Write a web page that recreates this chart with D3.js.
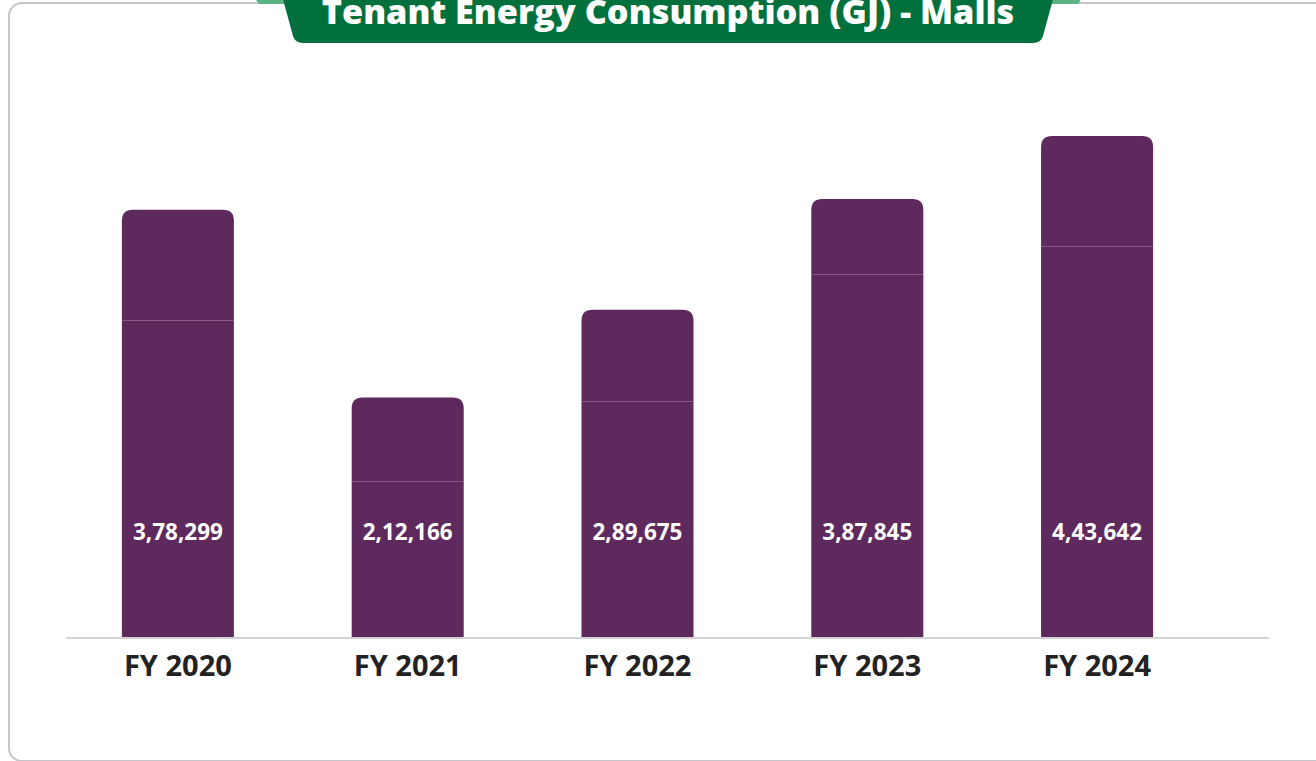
<!DOCTYPE html>
<html>
<head>
<meta charset="utf-8">
<script src="https://cdn.jsdelivr.net/npm/d3@7"></script>
<style>
  html, body { margin: 0; padding: 0; background: #fff; overflow: hidden; }
  svg { display: block; font-family: "Open Sans", "Noto Sans", sans-serif; }
</style>
</head>
<body>
<div id="chart"></div>
<script>
// chart data
const years = ["FY 2020", "FY 2021", "FY 2022", "FY 2023", "FY 2024"];
const consumption = [378299, 212166, 289675, 387845, 443642];
const valueLabels = ["3,78,299", "2,12,166", "2,89,675", "3,87,845", "4,43,642"];
// level of the faint seam seen inside each bar
const seamLevels = [280900, 138000, 209000, 321000, 346000];
const title = "Tenant Energy Consumption (GJ) - Malls";

const W = 1316, H = 761;
const baseY = 637;

const svg = d3.select("#chart").append("svg")
    .attr("width", W)
    .attr("height", H);

// card outline
svg.append("rect")
    .attr("x", 9)
    .attr("y", 3)
    .attr("width", 1340)
    .attr("height", 758)
    .attr("rx", 13)
    .attr("fill", "#fff")
    .attr("stroke", "#c6c6ca")
    .attr("stroke-width", 2);

// title tab
svg.append("path")
    .attr("d", "M250,-8 L1086,-8 L1078,4 L259,4 Z")
    .attr("fill", "#5bb583");

svg.append("path")
    .attr("d", "M281,-8 L1055,-8 L1043,36 Q1041,43 1033,43 L303,43 Q295,43 293,36 Z")
    .attr("fill", "#02703d");

const titleText = svg.append("text")
    .attr("x", 668)
    .attr("y", 24)
    .attr("text-anchor", "middle")
    .attr("fill", "#fff")
    .style("font-weight", 800)
    .style("font-size", "30px")
    .text(title);

function fitFont(sel, target) {
    const w = sel.node().getComputedTextLength();
    const fs = parseFloat(sel.style("font-size"));
    return fs * target / w;
}
titleText.style("font-size", fitFont(titleText, 693) + "px");

// scales
const x = d3.scaleBand()
    .domain(years)
    .range([63, 1212])
    .paddingInner(0.5125)
    .paddingOuter(0.25625);

const y = d3.scaleLinear()
    .domain([0, d3.max(consumption)])
    .range([baseY, 136]);

const rows = years.map((yr, i) => ({
    year: yr, value: consumption[i], label: valueLabels[i], seam: seamLevels[i]
}));

function topRounded(x0, y0, w, h, r) {
    return `M${x0},${y0 + h} L${x0},${y0 + r} Q${x0},${y0} ${x0 + r},${y0}` +
        ` L${x0 + w - r},${y0} Q${x0 + w},${y0} ${x0 + w},${y0 + r} L${x0 + w},${y0 + h} Z`;
}

const bars = svg.append("g");
bars.selectAll("path.bar")
    .data(rows)
    .join("path")
    .attr("class", "bar")
    .attr("d", d => topRounded(x(d.year), y(d.value), x.bandwidth(), baseY - y(d.value), 11))
    .attr("fill", "#5e295c");

bars.selectAll("line.seam")
    .data(rows)
    .join("line")
    .attr("class", "seam")
    .attr("x1", d => x(d.year))
    .attr("x2", d => x(d.year) + x.bandwidth())
    .attr("y1", d => Math.round(y(d.seam)) + 0.5)
    .attr("y2", d => Math.round(y(d.seam)) + 0.5)
    .attr("stroke", "#a07a9e")
    .attr("stroke-opacity", 0.6)
    .attr("stroke-width", 1);

// baseline
svg.append("line")
    .attr("x1", 66)
    .attr("x2", 1269)
    .attr("y1", baseY + 1)
    .attr("y2", baseY + 1)
    .attr("stroke", "#d3d3d3")
    .attr("stroke-width", 2);

// value labels inside bars
const vals = svg.append("g").selectAll("text")
    .data(rows)
    .join("text")
    .attr("x", d => x(d.year) + x.bandwidth() / 2)
    .attr("y", 540)
    .attr("text-anchor", "middle")
    .attr("fill", "#fff")
    .style("font-weight", 700)
    .style("font-size", "19px")
    .text(d => d.label);
const valFs = fitFont(d3.select(vals.nodes()[0]), 90);
vals.style("font-size", valFs + "px");

// category labels
const cats = svg.append("g").selectAll("text")
    .data(rows)
    .join("text")
    .attr("x", d => x(d.year) + x.bandwidth() / 2)
    .attr("y", 676)
    .attr("text-anchor", "middle")
    .attr("fill", "#222")
    .style("font-weight", 700)
    .style("font-size", "24px")
    .text(d => d.year);
const catFs = fitFont(d3.select(cats.nodes()[0]), 108);
cats.style("font-size", catFs + "px");
</script>
</body>
</html>
